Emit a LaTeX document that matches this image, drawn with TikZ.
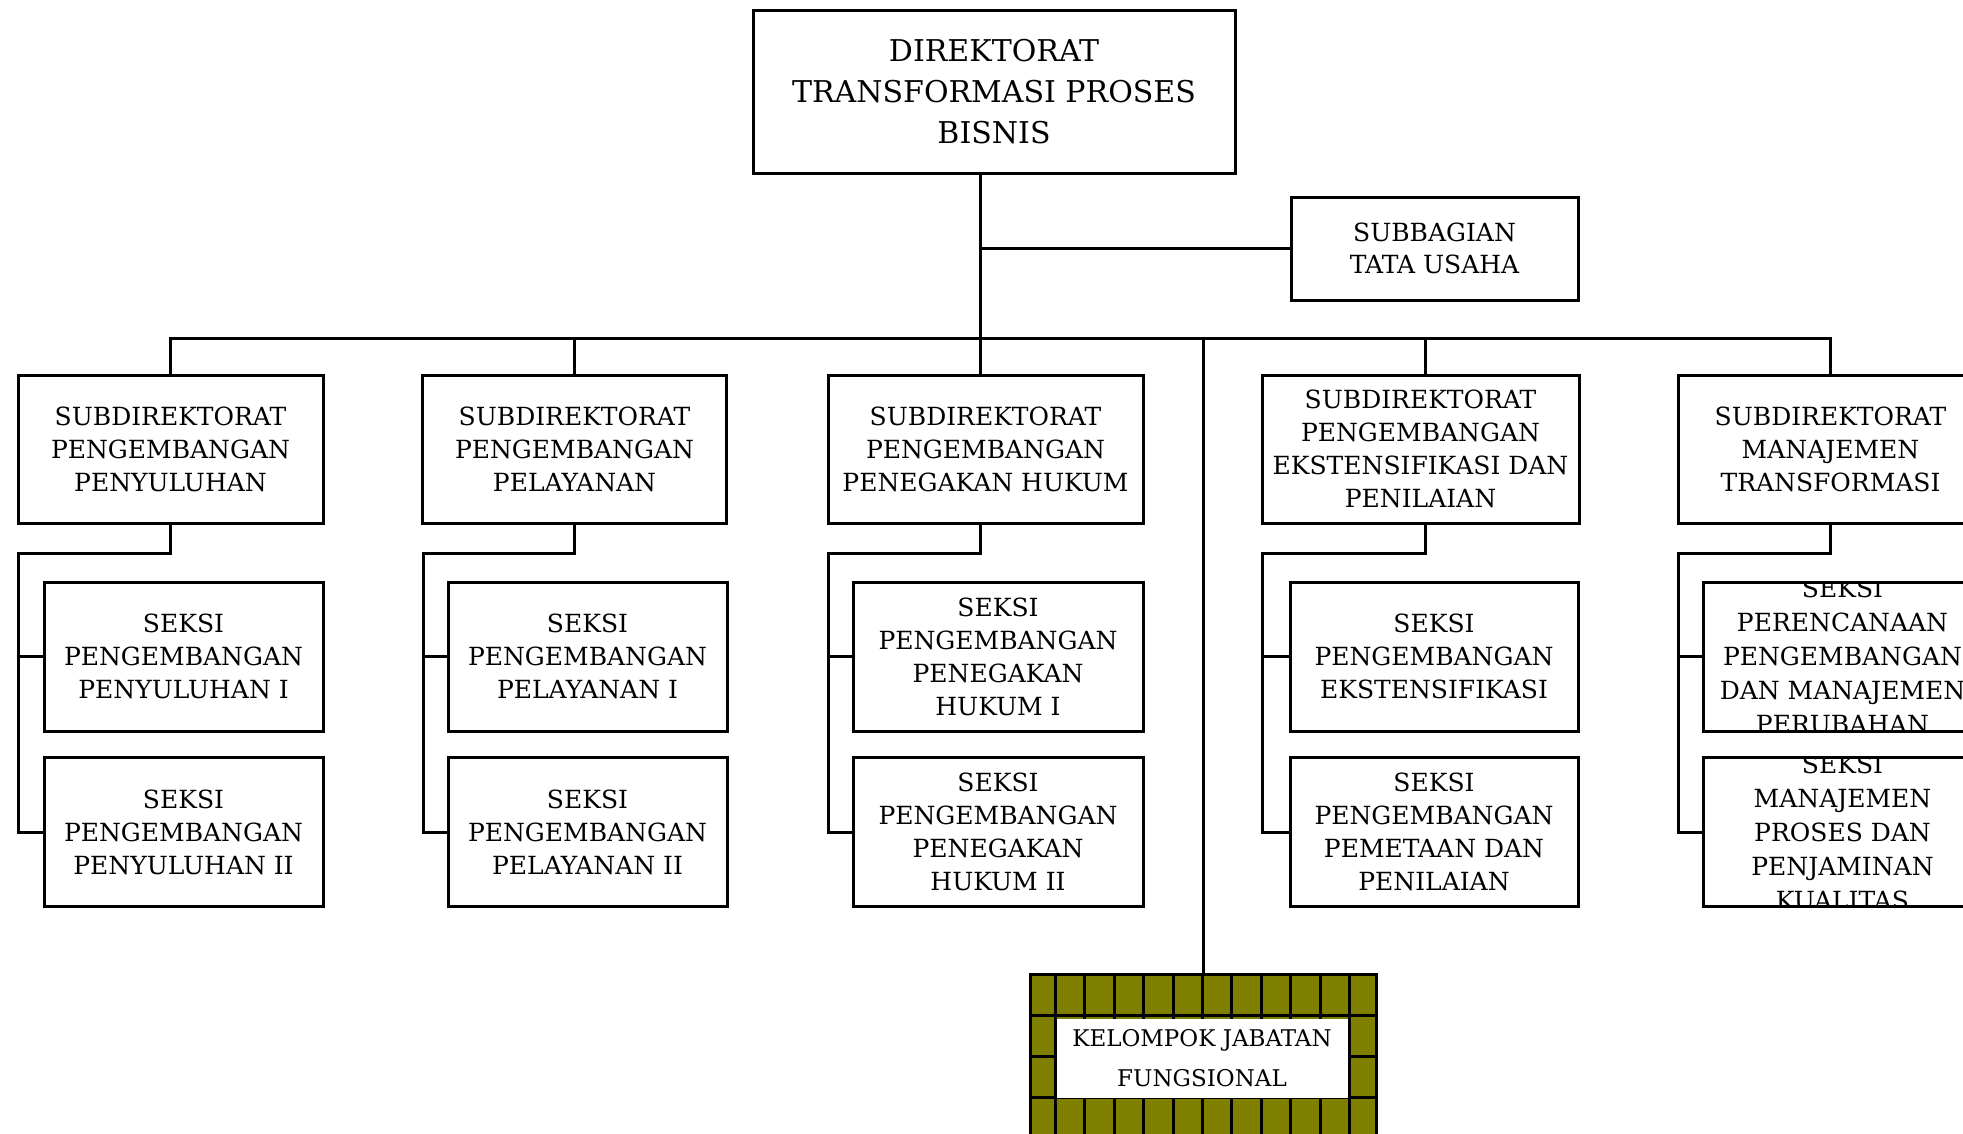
\documentclass[tikz,border=0pt]{standalone}
\usepackage{fontspec}
\setmainfont{DejaVu Serif}
\usepackage{xcolor}
\definecolor{kjfolive}{HTML}{808000}
\tikzstyle{box} = [
    rectangle, draw=black, fill=white, line width=3pt, outer sep=0pt,
    inner sep=0pt, align=center, font=\fontsize{25}{33}\selectfont
]
\tikzstyle{dirbox} = [box, minimum width=482pt, minimum height=163pt, font=\fontsize{30}{41}\selectfont]
\tikzstyle{tubox} = [box, minimum width=287pt, minimum height=103pt, font=\fontsize{25}{32}\selectfont]
\tikzstyle{subdir} = [box, minimum height=148pt]
\tikzstyle{seksi} = [box, minimum height=149pt]
\tikzstyle{seksitext} = [inner sep=0pt, align=center, font=\fontsize{25}{34}\selectfont]
\tikzstyle{kjfbox} = [rectangle, draw=black, fill=kjfolive, line width=3pt, outer sep=0pt,
    minimum width=346pt, minimum height=164pt]
\tikzstyle{kjfin} = [rectangle, fill=white, inner sep=0pt, minimum width=291pt, minimum height=79pt,
    align=center, font=\fontsize{23}{40}\selectfont]
\tikzstyle{conn} = [line width=3pt, color=black]
\tikzstyle{grid} = [line width=3pt, color=black]

\begin{document}
\begin{tikzpicture}[x=1pt, y=-1pt]
    \useasboundingbox (0,0) rectangle (1963,1133);
    \clip (0,0) rectangle (1963,1133);

    % Direktorat
    \node[dirbox] (dir) at (994,91.5) {DIREKTORAT\\TRANSFORMASI PROSES\\BISNIS};
    \node[tubox] (tu) at (1434.5,248.5) {SUBBAGIAN\\TATA USAHA};

    % Subdirektorat
    \node[subdir, minimum width=305pt] (sd1) at (170.5,449) {SUBDIREKTORAT\\PENGEMBANGAN\\PENYULUHAN};
    \node[subdir, minimum width=304pt] (sd2) at (574.5,449) {SUBDIREKTORAT\\PENGEMBANGAN\\PELAYANAN};
    \node[subdir, minimum width=315pt] (sd3) at (985.5,449) {SUBDIREKTORAT\\PENGEMBANGAN\\PENEGAKAN HUKUM};
    \node[subdir, minimum width=317pt] (sd4) at (1420.5,449) {SUBDIREKTORAT\\PENGEMBANGAN\\EKSTENSIFIKASI DAN\\PENILAIAN};
    \node[subdir, minimum width=305pt] (sd5) at (1830.5,449) {SUBDIREKTORAT\\MANAJEMEN\\TRANSFORMASI};

    % Seksi
    \node[seksi, minimum width=279pt] (k11) at (183.5,656.5) {SEKSI\\PENGEMBANGAN\\PENYULUHAN I};
    \node[seksi, minimum width=279pt] (k12) at (183.5,832) {SEKSI\\PENGEMBANGAN\\PENYULUHAN II};
    \node[seksi, minimum width=279pt] (k21) at (587.5,656.5) {SEKSI\\PENGEMBANGAN\\PELAYANAN I};
    \node[seksi, minimum width=279pt] (k22) at (587.5,832) {SEKSI\\PENGEMBANGAN\\PELAYANAN II};
    \node[seksi, minimum width=290pt] (k31) at (998,656.5) {SEKSI\\PENGEMBANGAN\\PENEGAKAN\\HUKUM I};
    \node[seksi, minimum width=290pt] (k32) at (998,832) {SEKSI\\PENGEMBANGAN\\PENEGAKAN\\HUKUM II};
    \node[seksi, minimum width=288pt] (k41) at (1434,656.5) {SEKSI\\PENGEMBANGAN\\EKSTENSIFIKASI};
    \node[seksi, minimum width=288pt] (k42) at (1434,832) {SEKSI\\PENGEMBANGAN\\PEMETAAN DAN\\PENILAIAN};
    \node[seksi, minimum width=279pt] (k51) at (1842.5,656.5) {};
    \node[seksi, minimum width=279pt] (k52) at (1842.5,832) {};
    \begin{scope}
        \clip (k51.south west) rectangle (k51.north east);
        \node[seksitext] (t51) at (k51) {SEKSI\\PERENCANAAN\\PENGEMBANGAN\\DAN MANAJEMEN\\PERUBAHAN};
    \end{scope}
    \begin{scope}
        \clip (k52.south west) rectangle (k52.north east);
        \node[seksitext] (t52) at (k52) {SEKSI\\MANAJEMEN\\PROSES DAN\\PENJAMINAN\\KUALITAS};
    \end{scope}

    % Kelompok jabatan fungsional
    \node[kjfbox] (kjf) at (1203,1056) {};
    \foreach \x in {1055,1084,1114,1143,1173,1202,1231,1261,1290,1320,1349}
        \draw[grid] (\x,974) -- (\x,1138);
    \foreach \y in {1015,1056,1097}
        \draw[grid] (1030,\y) -- (1376,\y);
    \node[kjfin] (kjft) at (1202,1058) {KELOMPOK JABATAN\\FUNGSIONAL};

    % Bus
    \coordinate (bus) at (980,338);
    \coordinate (c4) at (1425,338);
    \draw[conn] (dir.south -| bus) -- (bus);
    \draw[conn] (tu.west) -- (tu.west -| bus);
    \draw[conn] (sd1.north) |- (bus) -| (sd5.north);
    \draw[conn] (sd2.north |- bus) -- (sd2.north);
    \draw[conn] (bus) -- (bus |- sd3.north);
    \draw[conn] (c4) -- (c4 |- sd4.north);
    \draw[conn] (kjf.north |- bus) -- (kjf.north);

    % Seksi links
    \coordinate (e1) at (18,553);
    \coordinate (e2) at (423,553);
    \coordinate (e3) at (828,553);
    \coordinate (e4) at (1262,553);
    \coordinate (e5) at (1678,553);
    \draw[conn] (sd1.south) |- (e1) |- (k12.west);
    \draw[conn] (sd2.south) |- (e2) |- (k22.west);
    \draw[conn] (sd3.south -| bus) |- (e3) |- (k32.west);
    \draw[conn] (sd4.south -| c4) |- (e4) |- (k42.west);
    \draw[conn] (sd5.south) |- (e5) |- (k52.west);
    \draw[conn] (k11.west -| e1) -- (k11.west);
    \draw[conn] (k21.west -| e2) -- (k21.west);
    \draw[conn] (k31.west -| e3) -- (k31.west);
    \draw[conn] (k41.west -| e4) -- (k41.west);
    \draw[conn] (k51.west -| e5) -- (k51.west);

\end{tikzpicture}
\end{document}
